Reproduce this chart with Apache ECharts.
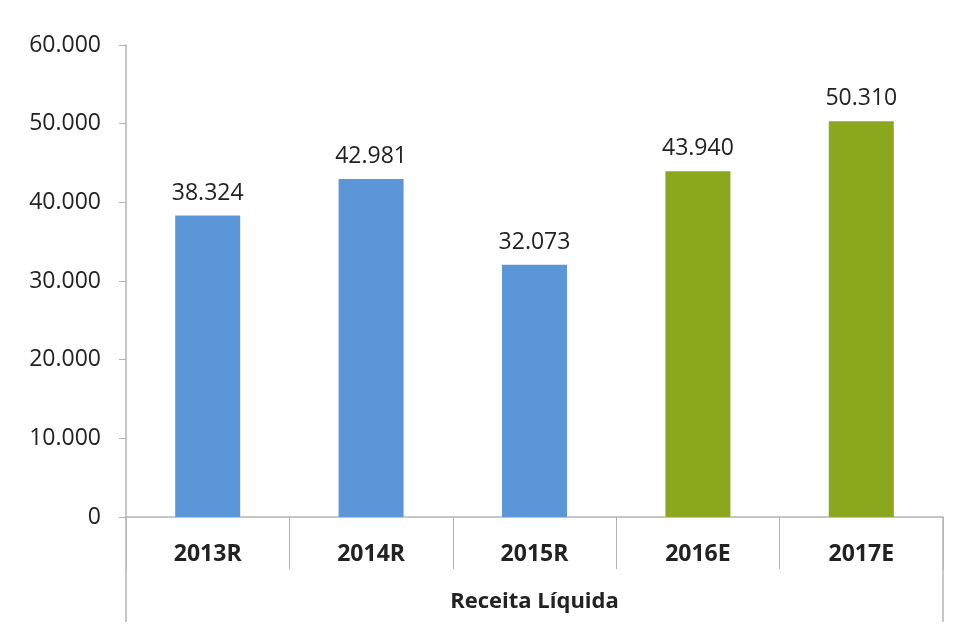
<!DOCTYPE html>
<html>
<head>
<meta charset="utf-8">
<title>Receita Líquida</title>
<script src="https://cdn.jsdelivr.net/npm/echarts@6/dist/echarts.min.js"></script>
<style>
  html, body { margin: 0; padding: 0; background: #ffffff; }
  #chart { width: 961px; height: 627px; }
</style>
</head>
<body>
<div id="chart"></div>
<script>
// Net revenue by year: R = realized, E = estimated
const categories = ['2013R', '2014R', '2015R', '2016E', '2017E'];
const receita = [38324, 42981, 32073, 43940, 50310];
const axisTitle = 'Receita Líquida';
const yMin = 0, yMax = 60000, yStep = 10000;

const BLUE = '#5b97d8';
const GREEN = '#8ba71e';
const AXIS = '#b4b4b4';
const TEXT = '#222222';
const FONT = '"Open Sans", "Noto Sans", sans-serif';

// grid placement
const G = { left: 126, right: 18, top: 45, bottom: 110 };
const W = 961, H = 627;

// thousands separator as in pt-BR
function fmt(v) {
  return String(Math.round(v)).replace(/\B(?=(\d{3})+(?!\d))/g, '.');
}

const barData = receita.map((v, i) => ({
  value: v,
  itemStyle: { color: categories[i].endsWith('E') ? GREEN : BLUE }
}));

const chart = echarts.init(document.getElementById('chart'), null, { renderer: 'canvas' });

const axisBottom = H - G.bottom;
const frameBottom = 622;

chart.setOption({
  animation: false,
  backgroundColor: '#ffffff',
  textStyle: { fontFamily: FONT },
  grid: { left: G.left, right: G.right, top: G.top, bottom: G.bottom, containLabel: false },
  xAxis: {
    type: 'category',
    data: categories,
    axisLine: { show: true, lineStyle: { color: AXIS, width: 1.5 } },
    axisTick: { show: true, alignWithLabel: false, length: 52, lineStyle: { color: AXIS, width: 1 } },
    axisLabel: { color: TEXT, fontFamily: FONT, fontWeight: 'bold', fontSize: 23, margin: 26 },
    name: axisTitle,
    nameLocation: 'middle',
    nameGap: 74,
    nameTextStyle: { color: TEXT, fontFamily: FONT, fontWeight: 'bold', fontSize: 22 }
  },
  yAxis: {
    type: 'value',
    min: yMin,
    max: yMax,
    interval: yStep,
    axisLine: { show: true, lineStyle: { color: AXIS, width: 1.5 } },
    axisTick: { show: true, length: 7, lineStyle: { color: AXIS } },
    splitLine: { show: false },
    axisLabel: { color: TEXT, fontFamily: FONT, fontSize: 23, margin: 25, formatter: fmt }
  },
  series: [{
    type: 'bar',
    data: barData,
    barWidth: 65,
    label: {
      show: true,
      position: 'top',
      distance: 11,
      color: TEXT,
      fontFamily: FONT,
      fontSize: 23,
      formatter: p => fmt(p.value)
    }
  }],
  graphic: [
    // left and right borders of the category table below the axis
    {
      type: 'line',
      shape: { x1: G.left, y1: axisBottom, x2: G.left, y2: frameBottom },
      style: { stroke: AXIS, lineWidth: 1.5 }
    },
    {
      type: 'line',
      shape: { x1: W - G.right, y1: axisBottom, x2: W - G.right, y2: frameBottom },
      style: { stroke: AXIS, lineWidth: 1.5 }
    }
  ]
});
</script>
</body>
</html>
